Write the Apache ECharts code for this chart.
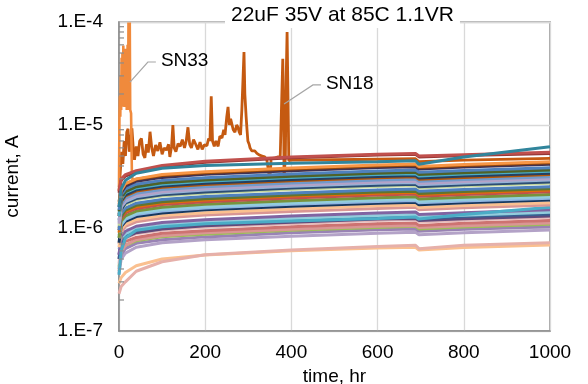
<!DOCTYPE html>
<html>
<head>
<meta charset="utf-8">
<script src="https://cdn.jsdelivr.net/npm/echarts@6/dist/echarts.min.js"></script>
<style>
  html, body { margin: 0; padding: 0; background: #fff; }
  #chart { width: 588px; height: 384px; }
</style>
</head>
<body>
<div id="chart"></div>
<script>
// Sample times (hr) shared by the regular leakage traces
const hours = [0, 5, 15, 40, 100, 200, 400, 600, 688, 696, 800, 1000];

// Leakage current of each part (µA) at the sample times above
const tr01 = [0.29, 0.33, 0.37, 0.43, 0.50, 0.546, 0.60, 0.64, 0.65, 0.61, 0.645, 0.684];
const tr02 = [0.23, 0.27, 0.30, 0.38, 0.47, 0.55, 0.61, 0.66, 0.68, 0.63, 0.68, 0.72];
const tr03 = [0.36, 0.50, 0.57, 0.65, 0.72, 0.77, 0.83, 0.89, 0.91, 0.86, 0.90, 0.957];
const tr04 = [0.40, 0.55, 0.63, 0.71, 0.77, 0.82, 0.90, 0.96, 0.98, 0.93, 0.97, 1.03];
const tr05 = [0.42, 0.60, 0.68, 0.75, 0.82, 0.87, 0.95, 1.01, 1.04, 0.98, 1.02, 1.09];
const tr06 = [0.38, 0.58, 0.68, 0.77, 0.84, 0.90, 0.97, 1.04, 1.06, 1.01, 1.05, 1.12];
const tr07 = [0.50, 0.66, 0.74, 0.81, 0.89, 0.94, 1.03, 1.10, 1.12, 1.06, 1.11, 1.18];
const tr08 = [0.45, 0.70, 0.79, 0.88, 0.95, 1.02, 1.10, 1.18, 1.21, 1.14, 1.19, 1.27];
const tr09 = [0.55, 0.72, 0.81, 0.90, 0.98, 1.05, 1.14, 1.22, 1.24, 1.18, 1.23, 1.31];
const tr10 = [0.50, 0.75, 0.85, 0.95, 1.03, 1.10, 1.19, 1.27, 1.30, 1.23, 1.29, 1.37];
const tr11 = [0.62, 0.80, 0.88, 0.98, 1.07, 1.14, 1.24, 1.32, 1.35, 1.28, 1.33, 1.42];
const tr12 = [0.55, 0.83, 0.93, 1.04, 1.13, 1.20, 1.31, 1.40, 1.43, 1.35, 1.41, 1.50];
const tr13 = [0.35, 0.60, 0.80, 0.95, 1.03, 1.10, 1.17, 1.24, 1.28, 1.22, 1.35, 1.59];
const tr14 = [0.70, 0.92, 1.04, 1.15, 1.25, 1.34, 1.45, 1.55, 1.59, 1.50, 1.57, 1.67];
const tr15 = [0.65, 0.97, 1.09, 1.21, 1.32, 1.41, 1.53, 1.64, 1.67, 1.58, 1.65, 1.76];
const tr16 = [0.72, 1.03, 1.16, 1.29, 1.40, 1.50, 1.63, 1.74, 1.78, 1.68, 1.76, 1.87];
const tr17 = [0.85, 1.07, 1.21, 1.35, 1.46, 1.56, 1.70, 1.81, 1.85, 1.76, 1.83, 1.95];
const tr18 = [0.80, 1.10, 1.25, 1.39, 1.51, 1.61, 1.75, 1.87, 1.91, 1.81, 1.89, 2.01];
const tr19 = [0.80, 1.17, 1.31, 1.46, 1.59, 1.70, 1.84, 1.97, 2.01, 1.91, 1.99, 2.12];
const tr20 = [0.95, 1.24, 1.40, 1.55, 1.69, 1.80, 1.96, 2.09, 2.14, 2.03, 2.12, 2.25];
const tr21 = [0.90, 1.29, 1.45, 1.61, 1.76, 1.87, 2.04, 2.18, 2.22, 2.11, 2.20, 2.34];
const tr22 = [1.00, 1.30, 1.49, 1.66, 1.80, 1.92, 2.09, 2.23, 2.28, 2.16, 2.26, 2.40];
const tr23 = [0.95, 1.38, 1.56, 1.74, 1.89, 2.02, 2.19, 2.34, 2.39, 2.27, 2.37, 2.52];
const tr24 = [1.05, 1.50, 1.69, 1.88, 2.04, 2.18, 2.37, 2.53, 2.58, 2.45, 2.56, 2.72];
const tr25 = [1.20, 1.50, 1.74, 1.93, 2.10, 2.24, 2.44, 2.60, 2.66, 2.52, 2.63, 2.80];
const tr26 = [1.15, 1.60, 1.80, 2.01, 2.19, 2.34, 2.54, 2.72, 2.77, 2.63, 2.74, 2.92];
const tr27 = [1.10, 1.60, 1.86, 2.07, 2.25, 2.40, 2.61, 2.79, 2.85, 2.70, 2.82, 3.00];
const tr28 = [1.30, 1.70, 1.95, 2.17, 2.36, 2.52, 2.74, 2.93, 2.99, 2.84, 2.96, 3.15];
const tr29 = [1.30, 1.80, 2.05, 2.28, 2.48, 2.64, 2.87, 3.07, 3.14, 2.97, 3.10, 3.30];
const tr30 = [1.35, 1.85, 2.10, 2.35, 2.55, 2.72, 2.96, 3.16, 3.23, 3.06, 3.20, 3.40];
const tr31 = [1.30, 1.90, 2.20, 2.45, 2.66, 2.84, 3.09, 3.30, 3.37, 3.20, 3.34, 3.55];
const tr32 = [1.45, 1.95, 2.25, 2.52, 2.75, 2.93, 3.18, 3.40, 3.48, 3.30, 3.44, 3.66];
const tr33 = [1.50, 2.10, 2.40, 2.66, 2.90, 3.08, 3.35, 3.58, 3.66, 3.47, 3.62, 3.85];
const tr34 = [1.60, 2.20, 2.55, 2.85, 3.10, 3.32, 3.60, 3.86, 3.94, 3.74, 3.90, 4.15];
const tr35 = [1.80, 2.37, 2.67, 2.97, 3.23, 3.44, 3.74, 4.00, 4.09, 3.87, 4.04, 4.30];
const tr36 = [1.70, 2.30, 2.70, 3.00, 3.30, 3.52, 3.83, 4.09, 4.18, 3.96, 4.14, 4.40];
const tr37 = [2.20, 2.90, 3.20, 3.50, 3.95, 4.35, 4.80, 5.10, 5.20, 4.90, 5.05, 5.30];
const tr38 = [2.30, 3.00, 3.30, 3.60, 4.05, 4.45, 4.90, 5.20, 5.30, 5.00, 5.15, 5.43];
const tr39 = [1.60, 2.40, 2.90, 3.40, 3.80, 4.05, 4.25, 4.40, 4.50, 4.15, 4.90, 6.15];

const traces = [tr01, tr02, tr03, tr04, tr05, tr06, tr07, tr08, tr09, tr10,
  tr11, tr12, tr13, tr14, tr15, tr16, tr17, tr18, tr19, tr20,
  tr21, tr22, tr23, tr24, tr25, tr26, tr27, tr28, tr29, tr30,
  tr31, tr32, tr33, tr34, tr35, tr36, tr37, tr38, tr39];

const traceColors = ['#FAC090', '#E6B0AA', '#B3A2C7', '#9983B5', '#9BBB59', '#DA9694', '#CD7371', '#E6B9B8',
  '#604A7B', '#366092', '#92CDDC', '#8064A2', '#4BACC6', '#D99694', '#FAC090', '#17375E', '#8EB4E3',
  '#93CDDD', '#77933C', '#C0504D', '#E36C09', '#5F7530', '#4F81BD', '#C3D69B', '#2C4D75', '#95B3D7',
  '#B3A2C7', '#729ACA', '#B65708', '#254061', '#4BACC6', '#4F6228', '#4F81BD', '#403152', '#984807',
  '#F79646', '#943634', '#C0504D', '#31859C'];

// SN18: noisy part with bursts up to ~400 hr
const sn18Hours = [0, 3, 6, 9, 12, 15, 18, 21, 24, 27, 30, 33, 36, 40, 44, 48, 52, 56, 60, 64,
  68, 72, 76, 80, 85, 90, 95, 100, 105, 110, 115, 118, 122, 125, 128, 132, 137, 142, 147, 152,
  156, 160, 164, 168, 173, 178, 183, 188, 193, 198, 204, 208, 211, 214, 217, 221, 225, 230, 234, 239,
  243, 246, 250, 253, 256, 259, 262, 265, 269, 273, 276, 279, 282, 285, 288, 290, 292, 295, 297, 299,
  302, 304, 308, 311, 315, 320, 326, 332, 338, 343, 347, 350, 353, 357, 363, 369, 374, 378, 380, 382,
  383, 386, 388, 390, 392, 394, 400, 500, 600, 688, 696, 800, 1000];
const sn18UA = [2.3, 3.5, 5.5, 4.2, 7.0, 5.0, 8.5, 9.2, 5.5, 6.8, 9.3, 6.0, 4.6, 6.2, 5.0, 7.0, 7.4, 5.2, 4.8, 6.5,
  5.4, 8.6, 6.0, 5.0, 6.4, 5.6, 6.8, 5.2, 6.0, 5.7, 6.5, 4.9, 6.2, 10.0, 6.0, 5.5, 6.6, 6.2, 7.2, 6.0,
  7.0, 9.5, 6.5, 6.0, 7.2, 6.5, 5.8, 6.8, 5.8, 6.4, 6.3, 7.4, 7.0, 19.0, 7.0, 6.2, 7.0, 6.2, 7.8, 7.5,
  9.0, 8.0, 12.0, 15.0, 10.0, 11.5, 12.0, 9.0, 8.5, 10.0, 9.5, 8.5, 8.0, 14.0, 30.0, 51.0, 20.0, 12.0, 9.0, 7.0,
  6.5, 6.0, 5.6, 5.4, 5.6, 5.3, 5.1, 5.0, 4.9, 4.6, 4.8, 2.9, 4.7, 4.7, 4.8, 4.9, 4.8, 5.0, 44.0, 12.0,
  3.0, 5.0, 30.0, 80.0, 20.0, 4.5, 4.55, 4.6, 4.65, 4.7, 4.4, 4.55, 4.75];

// SN33: bursts during the first ~30 hr
const sn33Hours = [0, 1, 2, 3, 4, 5, 6, 7, 8, 9, 10, 11, 12, 13, 14, 15, 17, 18, 20, 21, 22, 24, 25, 26, 28, 30,
  40, 100, 200, 400, 600, 688, 696, 800, 1000];
const sn33UA = [2.5, 12, 19, 12, 30, 14, 45, 15, 50, 16, 59, 17, 40, 15, 55, 16, 40, 14, 60, 14, 99, 20, 99, 14, 13, 3.2,
  2.1, 2.25, 2.4, 2.6, 2.8, 2.85, 2.7, 2.85, 3.0];

const FONT = '"Liberation Sans", Arial, sans-serif';
const UA = 1e-6;

function toPairs(hrs, ua) {
  return hrs.map((h, i) => [h, ua[i] * UA]);
}

const series = [];

series.push({
  type: 'line', name: 'SN18', data: toPairs(sn18Hours, sn18UA),
  showSymbol: false, silent: true,
  lineStyle: { color: '#C55A11', width: 2.8 }
});
series.push({
  type: 'line', name: 'SN33', data: toPairs(sn33Hours, sn33UA),
  showSymbol: false, silent: true,
  lineStyle: { color: '#F08A3C', width: 2.6 }
});
traces.forEach((ua, k) => {
  series.push({
    type: 'line', data: toPairs(hours, ua),
    showSymbol: false, silent: true,
    lineStyle: { color: traceColors[k], width: 3 }
  });
});

// Minor log ticks on the current axis (2..9 within each decade)
const minorTicks = [];
for (let e = -7; e <= -5; e++) {
  for (let m = 2; m <= 9; m++) minorTicks.push([0, m * Math.pow(10, e)]);
}
series.push({
  type: 'custom', silent: true, z: 20,
  data: minorTicks,
  renderItem: (params, api) => {
    const p = api.coord([api.value(0), api.value(1)]);
    return {
      type: 'line',
      shape: { x1: p[0], y1: p[1], x2: p[0] + 5, y2: p[1] },
      style: { stroke: '#8c8c8c', lineWidth: 1.2 }
    };
  }
});

// Callouts naming the two parts with bursts: [anchor, elbow] in data units
const callouts = [
  { name: 'SN33', at: [25.5, 2.61e-5], elbow: [67, 4.09e-5] },
  { name: 'SN18', at: [383, 1.6e-5], elbow: [450, 2.45e-5] }
];
series.push({
  type: 'custom', silent: true, z: 30,
  data: callouts.map(c => [c.at[0], c.at[1], c.elbow[0], c.elbow[1]]),
  renderItem: (params, api) => {
    const c = callouts[params.dataIndex];
    const a = api.coord([api.value(0), api.value(1)]);
    const b = api.coord([api.value(2), api.value(3)]);
    return {
      type: 'group',
      children: [
        {
          type: 'polyline',
          shape: { points: [a, b, [b[0] + 8, b[1]]] },
          style: { stroke: '#a6a6a6', lineWidth: 1.2, fill: null }
        },
        {
          type: 'text',
          x: b[0] + 13, y: b[1] - 1,
          style: { text: c.name, fontFamily: FONT, fontSize: 19, fill: '#000', align: 'left', verticalAlign: 'middle' }
        }
      ]
    };
  }
});

const chart = echarts.init(document.getElementById('chart'), null, { renderer: 'canvas' });
chart.setOption({
  animation: false,
  backgroundColor: '#fff',
  title: {
    text: '22uF 35V at 85C 1.1VR',
    left: 225, top: 3,
    padding: [2, 6, 2, 6],
    backgroundColor: '#fff',
    z: 50,
    textStyle: { fontFamily: FONT, fontSize: 21, fontWeight: 'normal', color: '#000' }
  },
  grid: {
    left: 119, right: 38, top: 22, bottom: 53,
    outerBoundsMode: 'none', containLabel: false,
    show: true, borderColor: '#8c8c8c', borderWidth: 1.5, backgroundColor: 'transparent'
  },
  xAxis: {
    type: 'value', min: 0, max: 1000, interval: 200,
    name: 'time, hr', nameLocation: 'middle', nameGap: 36,
    nameTextStyle: { fontFamily: FONT, fontSize: 19, color: '#000' },
    axisLine: { show: true, lineStyle: { color: '#8c8c8c', width: 1.5 } },
    axisTick: { show: false },
    axisLabel: { fontFamily: FONT, fontSize: 19, color: '#000', margin: 12, formatter: v => String(v) },
    splitLine: { show: true, lineStyle: { color: '#d9d9d9', width: 1.3 } }
  },
  yAxis: {
    type: 'log', logBase: 10, min: 1e-7, max: 1e-4,
    name: 'current, A', nameLocation: 'middle', nameGap: 97, nameRotate: 90,
    nameTextStyle: { fontFamily: FONT, fontSize: 19, color: '#000' },
    axisLine: { show: true, lineStyle: { color: '#8c8c8c', width: 1.5 } },
    axisTick: { show: false },
    axisLabel: {
      fontFamily: FONT, fontSize: 19, color: '#000', margin: 16,
      formatter: v => '1.E' + Math.round(Math.log10(v))
    },
    splitLine: { show: true, lineStyle: { color: '#d9d9d9', width: 1.3 } }
  },
  series: series
});
</script>
</body>
</html>
